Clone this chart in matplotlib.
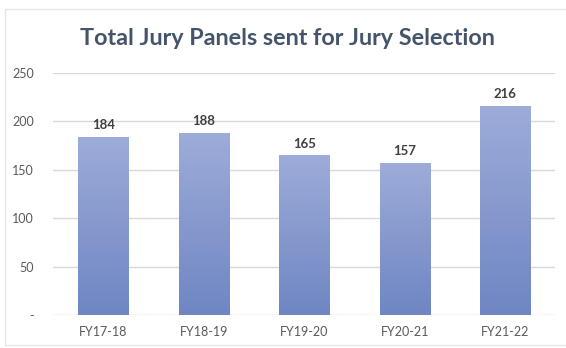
import matplotlib
matplotlib.use("Agg")
from matplotlib import pyplot as plt
from matplotlib.colors import LinearSegmentedColormap
from matplotlib.patches import Rectangle
import numpy as np

years = ["FY17-18", "FY18-19", "FY19-20", "FY20-21", "FY21-22"]
panels = [184, 188, 165, 157, 216]
yticks = [0, 50, 100, 150, 200, 250]
ytick_labels = ["-", "50", "100", "150", "200", "250"]

plt.rcParams['font.family'] = ['Lato', 'DejaVu Sans']

fig = plt.figure(figsize=(5.66, 3.48), dpi=100)
# chart border (runs off the right edge)
fig.patches.append(Rectangle((0.009, 0.01), 1.0, 0.964, transform=fig.transFigure,
                             fill=False, edgecolor='#e6e6e6', linewidth=1))
ax = fig.add_axes([0.094, 0.095, 0.887, 0.695])

x = np.arange(len(years))
bars = ax.bar(x, panels, width=0.5, color='none', zorder=3)

# vertical gradient fill for each bar
cmap = LinearSegmentedColormap.from_list('bar', ['#6f86c3', '#9dacd9'])
grad = np.linspace(0, 1, 256).reshape(-1, 1)
for b in bars:
    x0, w, h = b.get_x(), b.get_width(), b.get_height()
    im = ax.imshow(grad, cmap=cmap, origin='lower', aspect='auto',
                   extent=(x0, x0 + w, 0, h), zorder=3)
    im.set_clip_path(b)

for xi, v in zip(x, panels):
    ax.text(xi, v + 6, str(v), ha='center', va='bottom', fontsize=9.5,
            fontweight='bold', color='#404040')

ax.set_xlim(-0.5, len(years) - 0.5)
ax.set_ylim(0, 250)
ax.set_xticks(x)
ax.set_xticklabels(years)
ax.set_yticks(yticks)
ax.set_yticklabels(ytick_labels)
ax.tick_params(axis='both', length=0, labelsize=9, labelcolor='#595959')
ax.tick_params(axis='x', pad=8)
ax.tick_params(axis='y', pad=14)
ax.grid(axis='y', color='#d9d9d9', linewidth=1, zorder=0)
for s in ax.spines.values():
    s.set_visible(False)

fig.text(0.508, 0.89, "Total Jury Panels sent for Jury Selection", ha='center',
         va='center', fontsize=16.8, fontweight='bold', color='#44546a')

fig.savefig("out.png", dpi=100)
